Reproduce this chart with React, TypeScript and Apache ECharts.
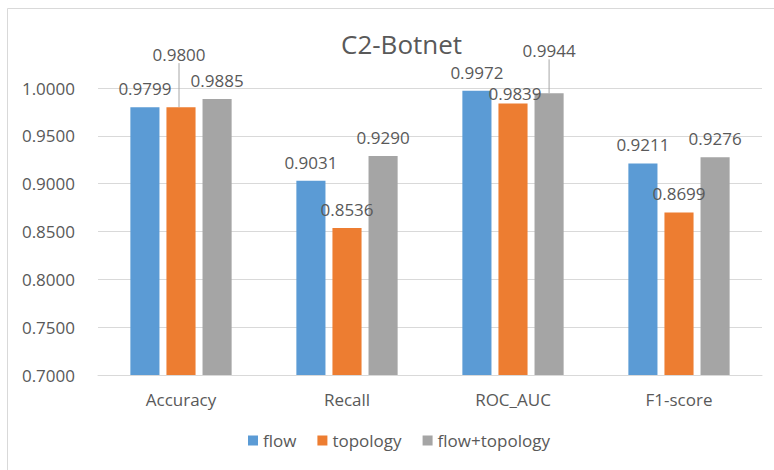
import React, { useEffect, useRef } from "react";
import * as echarts from "echarts";

const categories = ["Accuracy", "Recall", "ROC_AUC", "F1-score"];
const seriesNames = ["flow", "topology", "flow+topology"];
const flow = [0.9799, 0.9031, 0.9972, 0.9211];
const topology = [0.98, 0.8536, 0.9839, 0.8699];
const flowTopology = [0.9885, 0.929, 0.9944, 0.9276];
const yTicks = { min: 0.7, max: 1.0, interval: 0.05 };

const colors = ["#5B9BD5", "#ED7D31", "#A5A5A5"];
// label displacement (series index -> data index -> [dx, dy])
const labelMoves: Record<string, [number, number]> = {
  "1-0": [-2, -34],
  "1-2": [2, 9],
  "2-2": [0, -24],
};
const leaderLines = ["1-0", "2-2"];

const FONT = "'Open Sans', sans-serif";
const TXT = "#595959";

export default function App() {
  const ref = useRef<HTMLDivElement>(null);
  useEffect(() => {
    document.body.style.margin = "0";
    const chart = echarts.init(ref.current!, null, { renderer: "svg" });
    const all = [flow, topology, flowTopology];
    const option: any = {
      animation: false,
      backgroundColor: "#ffffff",
      textStyle: { fontFamily: FONT, color: TXT },
      title: {
        text: "C2-Botnet",
        left: 336,
        top: 26,
        textStyle: { fontFamily: FONT, fontSize: 26, fontWeight: "normal", color: TXT },
      },
      graphic: [
        {
          type: "rect",
          shape: { x: 7.5, y: 8.5, width: 800, height: 500 },
          style: { fill: "none", stroke: "#d9d9d9", lineWidth: 1 },
          silent: true,
          z: -1,
        },
      ],
      legend: {
        left: 248,
        top: 432,
        padding: 0,
        itemWidth: 10,
        itemHeight: 10,
        itemGap: 21,
        icon: "rect",
        textStyle: { fontFamily: FONT, fontSize: 17, color: TXT },
        data: seriesNames,
      },
      grid: { left: 98, right: 12, top: 88, bottom: 95 },
      xAxis: {
        type: "category",
        data: categories,
        axisLine: { lineStyle: { color: "#d9d9d9", width: 1 } },
        axisTick: { show: false },
        axisLabel: { fontFamily: FONT, fontSize: 17, color: TXT, margin: 16 },
      },
      yAxis: {
        type: "value",
        min: yTicks.min,
        max: yTicks.max,
        interval: yTicks.interval,
        axisLine: { show: false },
        axisTick: { show: false },
        splitLine: { lineStyle: { color: "#d9d9d9", width: 1 } },
        axisLabel: {
          fontFamily: FONT,
          fontSize: 17,
          color: TXT,
          margin: 23,
          formatter: (v: number) => v.toFixed(4),
        },
      },
      series: all.map((d, si) => ({
        name: seriesNames[si],
        type: "bar",
        barGap: "24%",
        barCategoryGap: "39%",
        itemStyle: { color: colors[si] },
        data: d.map((v, di) => ({
          value: v,
          labelLine: {
            show: leaderLines.includes(`${si}-${di}`),
            lineStyle: { color: "#a6a6a6", width: 1 },
          },
        })),
        label: {
          show: true,
          position: "top",
          distance: 10,
          fontFamily: FONT,
          fontSize: 17,
          color: TXT,
          formatter: (p: any) => Number(p.value).toFixed(4),
        },
        labelLayout: (p: any) => {
          const m = labelMoves[`${p.seriesIndex}-${p.dataIndex}`];
          return m ? { dx: m[0], dy: m[1] } : {};
        },
      })),
    };
    chart.setOption(option);
    return () => chart.dispose();
  }, []);
  return <div ref={ref} style={{ width: 774, height: 470 }} />;
}
